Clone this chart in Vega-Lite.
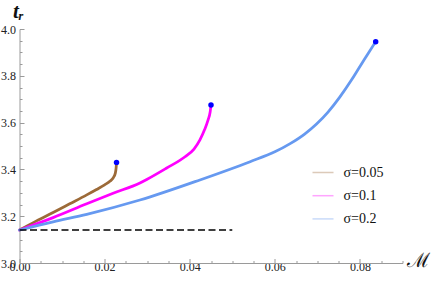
{
  "$schema": "https://vega.github.io/schema/vega-lite/v6.json",
  "width": 383,
  "height": 234,
  "autosize": "none",
  "padding": {"left": 19.5, "top": 29, "right": 28.5, "bottom": 18},
  "background": "white",
  "config": {
    "view": {"stroke": null},
    "font": "'Liberation Serif', 'Times New Roman', serif",
    "axis": {
      "grid": false,
      "domainColor": "#9a9a9a",
      "tickColor": "#9a9a9a",
      "domainWidth": 1,
      "tickWidth": 1,
      "labelFont": "'Liberation Serif', 'Times New Roman', serif",
      "labelFontSize": 12,
      "labelColor": "#222222"
    }
  },
  "resolve": {"axis": {"x": "independent", "y": "independent"}},
  "layer": [
    {
      "data": {
        "values": [
          {"s": "σ=0.05", "i": 0, "x": 0.0, "y": 3.141},
          {"s": "σ=0.05", "i": 1, "x": 0.0040, "y": 3.180},
          {"s": "σ=0.05", "i": 2, "x": 0.0079, "y": 3.216},
          {"s": "σ=0.05", "i": 3, "x": 0.0118, "y": 3.253},
          {"s": "σ=0.05", "i": 4, "x": 0.0158, "y": 3.291},
          {"s": "σ=0.05", "i": 5, "x": 0.0181, "y": 3.314},
          {"s": "σ=0.05", "i": 6, "x": 0.0200, "y": 3.334},
          {"s": "σ=0.05", "i": 7, "x": 0.0213, "y": 3.350},
          {"s": "σ=0.05", "i": 8, "x": 0.0221, "y": 3.366},
          {"s": "σ=0.05", "i": 9, "x": 0.0225, "y": 3.383},
          {"s": "σ=0.05", "i": 10, "x": 0.0227, "y": 3.405},
          {"s": "σ=0.05", "i": 11, "x": 0.0228, "y": 3.430},
          {"s": "σ=0.1", "i": 0, "x": 0.0, "y": 3.141},
          {"s": "σ=0.1", "i": 1, "x": 0.0079, "y": 3.194},
          {"s": "σ=0.1", "i": 2, "x": 0.0158, "y": 3.253},
          {"s": "σ=0.1", "i": 3, "x": 0.0220, "y": 3.298},
          {"s": "σ=0.1", "i": 4, "x": 0.0283, "y": 3.342},
          {"s": "σ=0.1", "i": 5, "x": 0.0299, "y": 3.357},
          {"s": "σ=0.1", "i": 6, "x": 0.0345, "y": 3.405},
          {"s": "σ=0.1", "i": 7, "x": 0.0389, "y": 3.454},
          {"s": "σ=0.1", "i": 8, "x": 0.0410, "y": 3.487},
          {"s": "σ=0.1", "i": 9, "x": 0.0424, "y": 3.526},
          {"s": "σ=0.1", "i": 10, "x": 0.0435, "y": 3.570},
          {"s": "σ=0.1", "i": 11, "x": 0.0443, "y": 3.611},
          {"s": "σ=0.1", "i": 12, "x": 0.0448, "y": 3.645},
          {"s": "σ=0.1", "i": 13, "x": 0.0450, "y": 3.675},
          {"s": "σ=0.2", "i": 0, "x": 0.0, "y": 3.141},
          {"s": "σ=0.2", "i": 1, "x": 0.0079, "y": 3.176},
          {"s": "σ=0.2", "i": 2, "x": 0.0158, "y": 3.208},
          {"s": "σ=0.2", "i": 3, "x": 0.0283, "y": 3.269},
          {"s": "σ=0.2", "i": 4, "x": 0.0424, "y": 3.355},
          {"s": "σ=0.2", "i": 5, "x": 0.0542, "y": 3.433},
          {"s": "σ=0.2", "i": 6, "x": 0.0600, "y": 3.475},
          {"s": "σ=0.2", "i": 7, "x": 0.0636, "y": 3.510},
          {"s": "σ=0.2", "i": 8, "x": 0.0670, "y": 3.551},
          {"s": "σ=0.2", "i": 9, "x": 0.0698, "y": 3.594},
          {"s": "σ=0.2", "i": 10, "x": 0.0725, "y": 3.645},
          {"s": "σ=0.2", "i": 11, "x": 0.0753, "y": 3.710},
          {"s": "σ=0.2", "i": 12, "x": 0.0780, "y": 3.782},
          {"s": "σ=0.2", "i": 13, "x": 0.0800, "y": 3.840},
          {"s": "σ=0.2", "i": 14, "x": 0.0820, "y": 3.897},
          {"s": "σ=0.2", "i": 15, "x": 0.0837, "y": 3.946}
        ]
      },
      "mark": {"type": "line", "strokeWidth": 2.75, "strokeCap": "round", "interpolate": "monotone"},
      "encoding": {
        "x": {
          "field": "x", "type": "quantitative",
          "scale": {"domain": [0, 0.09], "nice": false, "zero": false},
          "axis": {
            "orient": "bottom",
            "values": [0, 0.02, 0.04, 0.06, 0.08],
            "format": ".2f",
            "tickSize": -4.5,
            "labelPadding": 2.5,
            "labelFlush": false,
            "title": "ℳ",
            "titleFont": "'DejaVu Serif', serif",
            "titleFontSize": 20,
            "titleFontWeight": "normal",
            "titleFontStyle": "normal",
            "titleColor": "#111111",
            "titleAngle": 0,
            "titleAlign": "left",
            "titleBaseline": "alphabetic",
            "titleX": 387,
            "titleY": 3
          }
        },
        "y": {
          "field": "y", "type": "quantitative",
          "scale": {"domain": [3.0, 4.0], "nice": false, "zero": false},
          "axis": {
            "orient": "left",
            "values": [3.0, 3.2, 3.4, 3.6, 3.8, 4.0],
            "format": ".1f",
            "tickSize": -4.5,
            "labelPadding": 8.5,
            "labelFlush": false,
            "title": "tᵣ",
            "titleFont": "'Liberation Serif', 'DejaVu Serif', serif",
            "titleFontSize": 21,
            "titleFontWeight": "bold",
            "titleFontStyle": "italic",
            "titleColor": "#111111",
            "titleAngle": 0,
            "titleAlign": "left",
            "titleBaseline": "alphabetic",
            "titleX": -7,
            "titleY": -12
          }
        },
        "color": {
          "field": "s", "type": "nominal",
          "scale": {"domain": ["σ=0.05", "σ=0.1", "σ=0.2"], "range": ["#9c6a38", "#ff00ff", "#6699f0"]},
          "legend": {
            "title": null,
            "orient": "none",
            "legendX": 292,
            "legendY": 132,
            "padding": 0,
            "symbolType": "stroke",
            "symbolSize": 441,
            "symbolStrokeWidth": 1.5,
            "symbolOpacity": 0.35,
            "rowPadding": 4.2,
            "labelOffset": 9,
            "labelFont": "'Liberation Serif', 'Times New Roman', serif",
            "labelFontSize": 14,
            "labelColor": "#111111"
          }
        },
        "order": {"field": "i", "type": "quantitative"}
      }
    },
    {
      "data": {"values": [{"x": 0.0, "y": 3.141}, {"x": 0.05, "y": 3.141}]},
      "mark": {"type": "line", "color": "black", "strokeWidth": 1.7, "strokeDash": [7, 3.5]},
      "encoding": {
        "x": {
          "field": "x", "type": "quantitative",
          "scale": {"domain": [0, 0.09], "nice": false, "zero": false},
          "axis": {
            "orient": "bottom",
            "values": [0.005, 0.01, 0.015, 0.025, 0.03, 0.035, 0.045, 0.05, 0.055, 0.065, 0.07, 0.075, 0.085, 0.09],
            "labels": false,
            "domain": false,
            "tickSize": -2.5,
            "title": null
          }
        },
        "y": {
          "field": "y", "type": "quantitative",
          "scale": {"domain": [3.0, 4.0], "nice": false, "zero": false},
          "axis": {
            "orient": "left",
            "values": [3.05, 3.1, 3.15, 3.25, 3.3, 3.35, 3.45, 3.5, 3.55, 3.65, 3.7, 3.75, 3.85, 3.9, 3.95],
            "labels": false,
            "domain": false,
            "tickSize": -2.5,
            "title": null
          }
        }
      }
    },
    {
      "data": {
        "values": [
          {"x": 0.0228, "y": 3.430},
          {"x": 0.0450, "y": 3.675},
          {"x": 0.0837, "y": 3.946}
        ]
      },
      "mark": {"type": "point", "filled": true, "color": "#0000ff", "opacity": 1, "size": 30},
      "encoding": {
        "x": {"field": "x", "type": "quantitative", "scale": {"domain": [0, 0.09], "nice": false, "zero": false}, "axis": null},
        "y": {"field": "y", "type": "quantitative", "scale": {"domain": [3.0, 4.0], "nice": false, "zero": false}, "axis": null}
      }
    }
  ]
}
